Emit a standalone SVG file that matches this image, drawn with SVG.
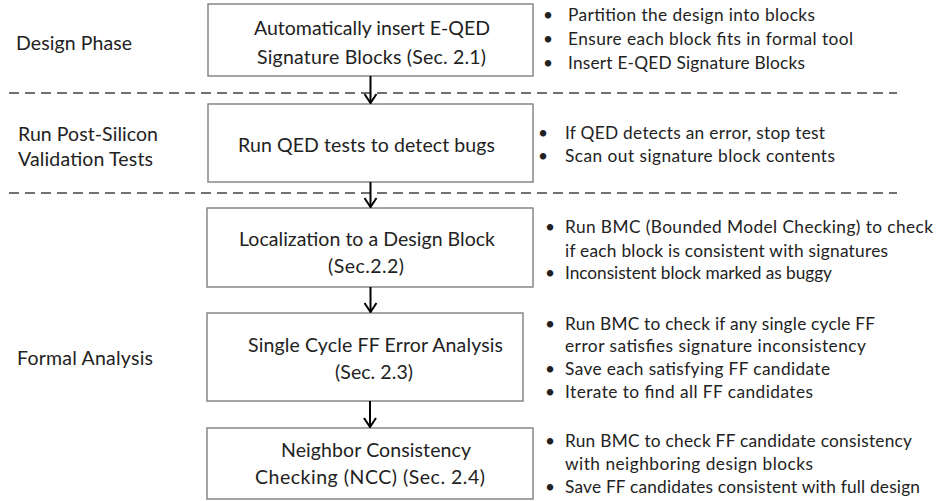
<svg xmlns="http://www.w3.org/2000/svg" width="937" height="501" viewBox="0 0 937 501">
<style>
.bx{fill:#fff;stroke:#7f7f7f;stroke-width:1.4}
.t{font-family:Lato,"Liberation Sans",sans-serif;fill:#222}
.bt{font-size:19.5px}
.lt{font-size:19.5px}
.rt{font-size:17.3px}
.dash{stroke:#404040;stroke-width:1.6;stroke-dasharray:10 6;fill:none}
.ar{stroke:#000;stroke-width:2;fill:none}
</style>
<defs>
<marker id="ah" viewBox="0 0 12 14" refX="11" refY="7" markerWidth="12" markerHeight="14" markerUnits="userSpaceOnUse" orient="auto">
<path d="M2,1 L11,7 L2,13" fill="none" stroke="#000" stroke-width="2"/>
</marker>
</defs>
<rect width="937" height="501" fill="#fff"/>
<g id="separators">
<line class="dash" x1="9" y1="93" x2="897" y2="93"/>
<line class="dash" x1="9" y1="193" x2="897" y2="193"/>
</g>
<g id="phase-labels" class="t lt">
<text x="16" y="50" textLength="116">Design Phase</text>
<text x="18" y="141" textLength="140">Run Post-Silicon</text>
<text x="18" y="166" textLength="135">Validation Tests</text>
<text x="17" y="365" textLength="136">Formal Analysis</text>
</g>
<g id="node-insert">
<rect class="bx" x="208" y="4" width="325" height="72"/>
<text class="t bt" x="254" y="35" textLength="236">Automatically insert E-QED</text>
<text class="t bt" x="257" y="64" textLength="229">Signature Blocks (Sec. 2.1)</text>
</g>
<g id="node-run">
<rect class="bx" x="208" y="104" width="325" height="78"/>
<text class="t bt" x="238" y="152" textLength="257">Run QED tests to detect bugs</text>
</g>
<g id="node-localize">
<rect class="bx" x="207" y="208" width="326" height="79"/>
<text class="t bt" x="239" y="246" textLength="256">Localization to a Design Block</text>
<text class="t bt" x="328" y="273" textLength="76">(Sec.2.2)</text>
</g>
<g id="node-single">
<rect class="bx" x="207" y="313" width="316" height="88"/>
<text class="t bt" x="248" y="352" textLength="255">Single Cycle FF Error Analysis</text>
<text class="t bt" x="335" y="379" textLength="78">(Sec. 2.3)</text>
</g>
<g id="node-ncc">
<rect class="bx" x="207" y="428" width="326" height="71"/>
<text class="t bt" x="281" y="457" textLength="190">Neighbor Consistency</text>
<text class="t bt" x="255" y="484" textLength="230">Checking (NCC) (Sec. 2.4)</text>
</g>
<g id="notes-design" class="t rt">
<text x="548" y="21" text-anchor="middle">•</text>
<text x="548" y="45" text-anchor="middle">•</text>
<text x="548" y="69" text-anchor="middle">•</text>
<text x="568" y="21" textLength="247">Partition the design into blocks</text>
<text x="568" y="45" textLength="285">Ensure each block fits in formal tool</text>
<text x="568" y="69" textLength="237">Insert E-QED Signature Blocks</text>
</g>
<g id="notes-run" class="t rt">
<text x="543" y="139" text-anchor="middle">•</text>
<text x="543" y="162" text-anchor="middle">•</text>
<text x="565" y="139" textLength="260">If QED detects an error, stop test</text>
<text x="565" y="162" textLength="270">Scan out signature block contents</text>
</g>
<g id="notes-localize" class="t rt">
<text x="550" y="233" text-anchor="middle">•</text>
<text x="550" y="279" text-anchor="middle">•</text>
<text x="565" y="233" textLength="368">Run BMC (Bounded Model Checking) to check</text>
<text x="565" y="256.5" textLength="323">if each block is consistent with signatures</text>
<text x="565" y="279" textLength="267">Inconsistent block marked as buggy</text>
</g>
<g id="notes-single" class="t rt">
<text x="550" y="330" text-anchor="middle">•</text>
<text x="550" y="375" text-anchor="middle">•</text>
<text x="550" y="398" text-anchor="middle">•</text>
<text x="565" y="330" textLength="310">Run BMC to check if any single cycle FF</text>
<text x="565" y="352" textLength="301">error satisfies signature inconsistency</text>
<text x="565" y="375" textLength="265">Save each satisfying FF candidate</text>
<text x="565" y="398" textLength="248">Iterate to find all FF candidates</text>
</g>
<g id="notes-ncc" class="t rt">
<text x="550" y="447" text-anchor="middle">•</text>
<text x="550" y="493" text-anchor="middle">•</text>
<text x="565" y="447" textLength="347">Run BMC to check FF candidate consistency</text>
<text x="565" y="470" textLength="248">with neighboring design blocks</text>
<text x="565" y="493" textLength="355">Save FF candidates consistent with full design</text>
</g>
<g id="connectors">
<line class="ar" x1="370.5" y1="76" x2="370.5" y2="103" marker-end="url(#ah)"/>
<line class="ar" x1="370.5" y1="182" x2="370.5" y2="207" marker-end="url(#ah)"/>
<line class="ar" x1="370.5" y1="287" x2="370.5" y2="312" marker-end="url(#ah)"/>
<line class="ar" x1="370" y1="401" x2="370" y2="427" marker-end="url(#ah)"/>
</g>
</svg>
